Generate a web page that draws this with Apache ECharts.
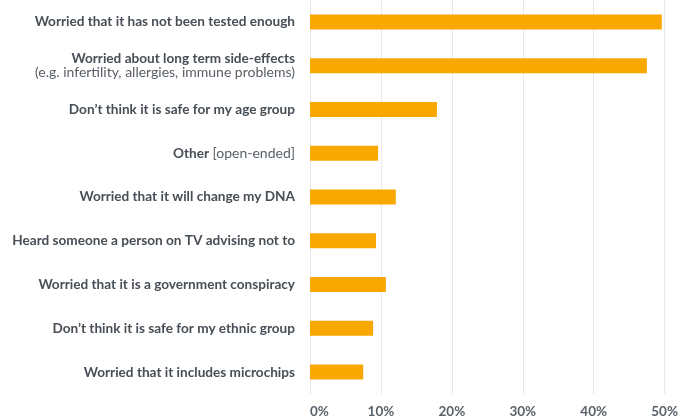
<!DOCTYPE html>
<html>
<head>
<meta charset="utf-8">
<script src="https://cdn.jsdelivr.net/npm/echarts@6/dist/echarts.min.js"></script>
<style>
  html, body { margin: 0; padding: 0; background: #ffffff; }
  #chart { width: 681px; height: 419px; }
</style>
</head>
<body>
<div id="chart"></div>
<script>
// Reasons given for vaccine hesitancy, share of respondents (%)
const categories = [
  'Worried that it has not been tested enough',
  'Worried about long term side-effects|(e.g. infertility, allergies, immune problems)',
  'Don\u2019t think it is safe for my age group',
  'Other|[open-ended]',
  'Worried that it will change my DNA',
  'Heard someone a person on TV advising not to',
  'Worried that it is a government conspiracy',
  'Don\u2019t think it is safe for my ethnic group',
  'Worried that it includes microchips'
];
const values = [49.6, 47.5, 17.9, 9.6, 12.1, 9.3, 10.7, 8.9, 7.5];
const tickValues = [0, 10, 20, 30, 40, 50];

const chart = echarts.init(document.getElementById('chart'));

// Bold main text; bracketed or second-line notes in regular weight
function formatCategory(label) {
  if (label.startsWith('Other|')) {
    const parts = label.split('|');
    return '{b|' + parts[0] + '} {r|' + parts[1] + '}';
  }
  if (label.indexOf('|') >= 0) {
    const parts = label.split('|');
    return '{b|' + parts[0] + '}\n{r|' + parts[1] + '}';
  }
  return '{b|' + label + '}';
}

chart.setOption({
  backgroundColor: '#ffffff',
  animation: false,
  grid: { left: 310, right: 16, top: 0, bottom: 25, containLabel: false },
  xAxis: {
    type: 'value',
    min: tickValues[0],
    max: tickValues[tickValues.length - 1],
    interval: 10,
    axisLine: { show: false },
    axisTick: { show: false },
    splitLine: { show: true, lineStyle: { color: '#e9e9e9', width: 1 } },
    axisLabel: {
      formatter: v => v + '%',
      color: '#58616a',
      fontFamily: 'Lato',
      fontWeight: 'bold',
      fontSize: 13.5,
      margin: 11,
      alignMinLabel: 'left'
    }
  },
  yAxis: {
    type: 'category',
    data: categories,
    inverse: true,
    axisLine: { show: false },
    axisTick: { show: false },
    axisLabel: {
      margin: 15,
      formatter: formatCategory,
      rich: {
        b: { fontFamily: 'Lato', fontWeight: 'bold', fontSize: 13.6, color: '#474e56', lineHeight: 14, align: 'right' },
        r: { fontFamily: 'Lato', fontWeight: 'normal', fontSize: 14, color: '#575e66', lineHeight: 14, align: 'right' }
      }
    }
  },
  series: [{
    type: 'bar',
    data: values,
    barWidth: 15,
    itemStyle: { color: '#f8a800' }
  }]
});
</script>
</body>
</html>
